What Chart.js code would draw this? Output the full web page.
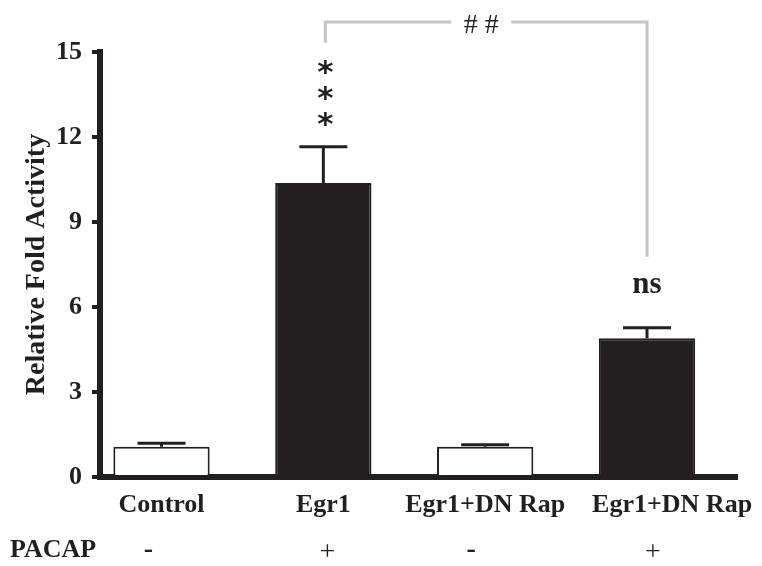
<!DOCTYPE html>
<html>
<head>
<meta charset="utf-8">
<script src="https://cdn.jsdelivr.net/npm/chart.js@4.4.1/dist/chart.umd.min.js"></script>
<style>
  body{margin:0;background:#fff;}
</style>
</head>
<body>
<canvas id="barChart" width="762" height="566"></canvas>
<script>
const groups = ["Control","Egr1","Egr1+DN Rap","Egr1+DN Rap"];
const pacap = ["-","+","-","+"];
const foldActivity = [1.07,10.38,1.07,4.9];
const sem = [0.12,1.28,0.07,0.37];
const yTicks = [0,3,6,9,12,15];
const marks = ["","***","","ns"];
const comparison = {from:1, to:3, label:"# #"};

const ink = "#231f20";
const serif = "'Liberation Serif', 'Times New Roman', serif";

// small horizontal nudges so the labels sit as in the original figure
const labelNudge = [0, 0, 0, 0.155];
const signNudgePx = [-13, 4, -14, 6];

// draw text centred on its real glyph box
function centerText(ctx, text, x, cy){
    ctx.textAlign = "center";
    ctx.textBaseline = "alphabetic";
    const m = ctx.measureText(text);
    const asc = m.actualBoundingBoxAscent, desc = m.actualBoundingBoxDescent;
    ctx.fillText(text, x, cy + (asc - desc) / 2);
}

const annotate = {
    id:"annotate",
    afterDatasetsDraw(chart){
        const {ctx, scales:{x, y}} = chart;
        ctx.save();

        // error bars
        ctx.strokeStyle = ink;
        ctx.lineWidth = 3;
        const caps = foldActivity.map((v,i) => {
            const cx = x.getPixelForValue(i);
            const top = y.getPixelForValue(v + sem[i]);
            ctx.beginPath();
            ctx.moveTo(cx, y.getPixelForValue(v));
            ctx.lineTo(cx, top);
            ctx.moveTo(cx - 24, top);
            ctx.lineTo(cx + 24, top);
            ctx.stroke();
            return {cx, top};
        });

        // significance marks
        ctx.fillStyle = ink;
        marks.forEach((m,i) => {
            if (!m) return;
            const {cx, top} = caps[i];
            if (m === "***") {
                ctx.font = "bold 31px 'DejaVu Sans'";
                for (let k = 0; k < 3; k++) centerText(ctx, "*", cx + 2, top - 27 - k * 26);
            } else {
                ctx.font = "bold 31px " + serif;
                centerText(ctx, m, cx, top - 42);
            }
        });

        // comparison bracket
        const a = caps[comparison.from], b = caps[comparison.to];
        const by = y.getPixelForValue(15) - 30;
        const mid = (a.cx + b.cx) / 2 - 4;
        ctx.strokeStyle = "#c4c4c4";
        ctx.lineWidth = 3;
        ctx.beginPath();
        ctx.moveTo(a.cx + 2, a.top - 104);
        ctx.lineTo(a.cx + 2, by);
        ctx.lineTo(mid - 30, by);
        ctx.moveTo(mid + 30, by);
        ctx.lineTo(b.cx, by);
        ctx.lineTo(b.cx, b.top - 71);
        ctx.stroke();
        ctx.fillStyle = "#222";
        ctx.font = "28px " + serif;
        centerText(ctx, comparison.label, mid, by + 2);

        // PACAP row
        const rowY = chart.chartArea.bottom + 73;
        ctx.fillStyle = ink;
        ctx.font = "bold 26px " + serif;
        ctx.textAlign = "left";
        ctx.textBaseline = "middle";
        ctx.fillText("PACAP", 10, rowY);
        pacap.forEach((s,i) => {
            ctx.font = (s === "-" ? "bold " : "") + "28px " + serif;
            centerText(ctx, s, x.getPixelForValue(i) + signNudgePx[i], rowY);
        });
        ctx.restore();
    }
};

new Chart(document.getElementById("barChart"),{

    type:"bar",

    data:{
        datasets:[{
            data:foldActivity.map((v,i) => ({x:i, y:v})),
            backgroundColor:["#ffffff",ink,"#ffffff",ink],
            borderColor:ink,
            borderWidth:2,
            barPercentage:0.595,
            categoryPercentage:1
        }]
    },

    options:{
        responsive:false,
        animation:false,
        layout:{padding:{top:52, right:25, left:0, bottom:0}},
        plugins:{legend:{display:false}, tooltip:{enabled:false}},
        scales:{
            x:{
                type:"linear",
                offset:false,
                min:-0.38,
                max:3.556,
                z:1,
                grid:{display:false},
                border:{display:true, color:ink, width:6},
                afterBuildTicks(scale){
                    scale.ticks = groups.map((g,i) => ({value:i + labelNudge[i]}));
                },
                afterFit(scale){ scale.height = 89; },
                ticks:{
                    autoSkip:false,
                    maxRotation:0,
                    color:ink,
                    padding:-4,
                    font:{family:serif, size:26, weight:"bold", lineHeight:1.84},
                    callback:(v, idx) => groups[idx]
                }
            },
            y:{
                min:0,
                max:15,
                z:1,
                afterBuildTicks(scale){
                    scale.ticks = yTicks.map(v => ({value:v}));
                },
                afterFit(scale){ scale.width = 100; },
                grid:{drawOnChartArea:false, drawTicks:true, tickLength:8, color:ink, lineWidth:4},
                border:{display:true, color:ink, width:6},
                ticks:{color:ink, padding:10, font:{family:serif, size:26, weight:"bold"}},
                title:{
                    display:true,
                    text:"Relative Fold Activity",
                    color:ink,
                    padding:{top:20, bottom:0},
                    font:{family:serif, size:28, weight:"bold"}
                }
            }
        }
    },

    plugins:[annotate]
});
</script>
</body>
</html>
